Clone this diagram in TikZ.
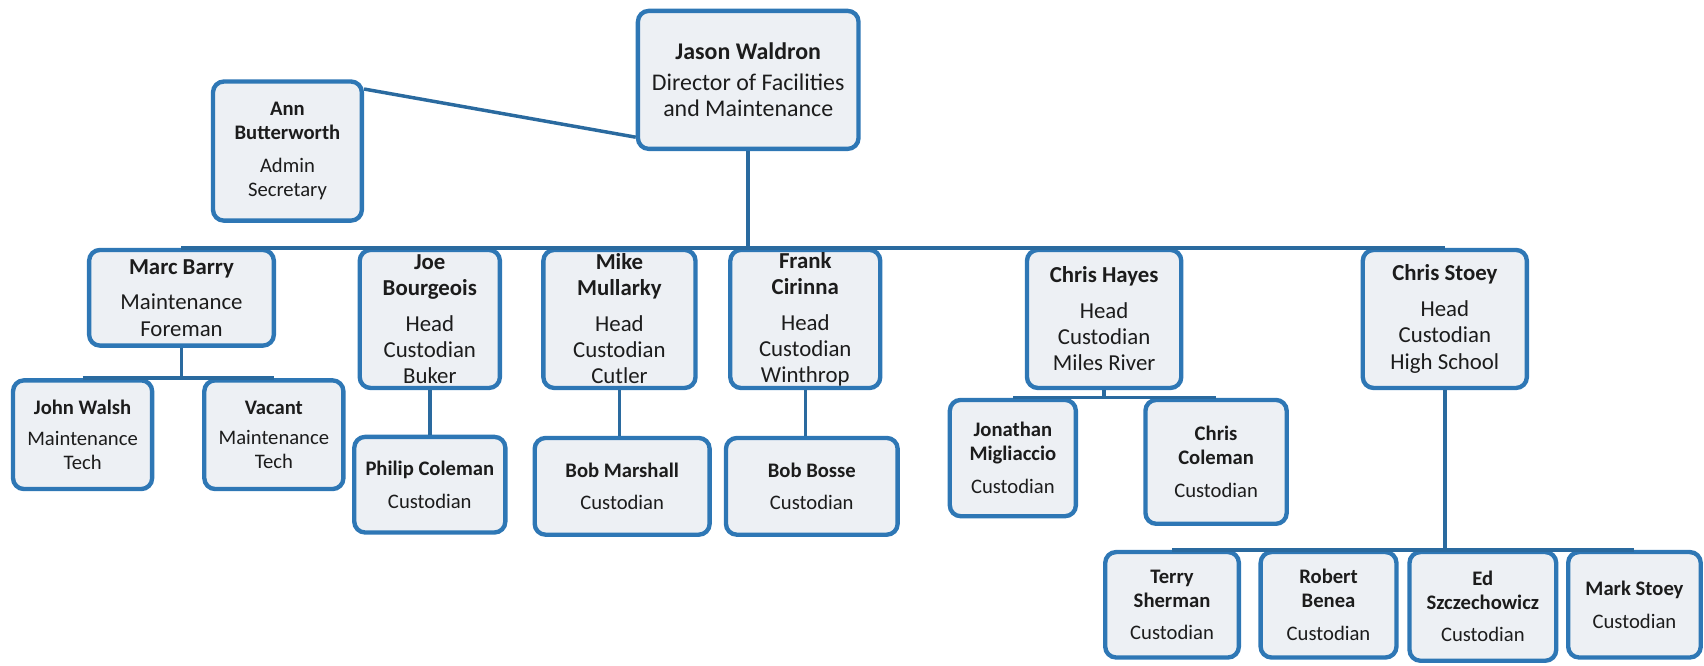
\documentclass[tikz,border=0pt]{standalone}
\usepackage{fontspec}
\setmainfont{Carlito}
\definecolor{boxblue}{HTML}{2E77B5}
\definecolor{lineblue}{HTML}{2A6A9F}
\definecolor{boxfill}{HTML}{EDF0F4}
\definecolor{ink}{HTML}{1C1C1C}
\tikzset{
  box/.style={draw=boxblue, line width=2pt, rounded corners=5pt, fill=boxfill,
    text=ink, align=center, inner sep=1pt},
  topfont/.style={font=\fontsize{11}{12}\selectfont},
  midfont/.style={font=\fontsize{10.5}{12}\selectfont},
  lowfont/.style={font=\fontsize{9.5}{11}\selectfont},
  link/.style={draw=lineblue, line width=1.6pt},
}
\begin{document}
\begin{tikzpicture}[x=0.5pt,y=-0.5pt]
   \useasboundingbox (0,0) rectangle (1568,612);
   % Director and secretary
   \node[box,topfont,minimum width=101.5pt,minimum height=63.5pt] (jason) at (688.5,73.5)
     {\textbf{Jason Waldron}\\[2pt]Director of Facilities\\and Maintenance};
   \node[box,lowfont,minimum width=68.5pt,minimum height=64pt] (ann) at (264.5,139)
     {\textbf{Ann}\\\textbf{Butterworth}\\[4.5pt]Admin\\Secretary};
   % Foreman and head custodians
   \node[box,midfont,minimum width=85pt,minimum height=44pt] (marc) at (167,274)
     {\textbf{Marc Barry}\\[4.5pt]Maintenance\\Foreman};
   \node[box,midfont,minimum width=64.5pt,minimum height=63.5pt] (joe) at (395.5,293.5)
     {\textbf{Joe}\\\textbf{Bourgeois}\\[4.5pt]Head\\Custodian\\Buker};
   \node[box,midfont,minimum width=70pt,minimum height=63.5pt] (mike) at (570,293.5)
     {\textbf{Mike}\\\textbf{Mullarky}\\[4.5pt]Head\\Custodian\\Cutler};
   \node[box,midfont,minimum width=69pt,minimum height=63.5pt] (frank) at (741,293.5)
     {\textbf{Frank}\\\textbf{Cirinna}\\[4.5pt]Head\\Custodian\\Winthrop};
   \node[box,midfont,minimum width=71pt,minimum height=63.5pt] (hayes) at (1016,293.5)
     {\textbf{Chris Hayes}\\[4.5pt]Head\\Custodian\\Miles River};
   \node[box,midfont,minimum width=75.5pt,minimum height=63.5pt] (stoey) at (1329.5,293.5)
     {\textbf{Chris Stoey}\\[4.5pt]Head\\Custodian\\High School};
   % Maintenance techs
   \node[box,lowfont,minimum width=64pt,minimum height=50pt] (walsh) at (76,400)
     {\textbf{John Walsh}\\[3pt]Maintenance\\Tech};
   \node[box,lowfont,minimum width=64pt,minimum height=50pt] (vacant) at (252,400)
     {\textbf{Vacant}\\[3pt]Maintenance\\Tech};
   % Custodians
   \node[box,lowfont,minimum width=69.5pt,minimum height=44pt] (philip) at (395.5,446)
     {\textbf{Philip Coleman}\\[4pt]Custodian};
   \node[box,lowfont,minimum width=80.5pt,minimum height=44.5pt] (marshall) at (572.5,447.5)
     {\textbf{Bob Marshall}\\[4pt]Custodian};
   \node[box,lowfont,minimum width=79pt,minimum height=44.5pt] (bosse) at (747,447.5)
     {\textbf{Bob Bosse}\\[4pt]Custodian};
   \node[box,lowfont,minimum width=58pt,minimum height=53.5pt] (migliaccio) at (932,421.5)
     {\textbf{Jonathan}\\\textbf{Migliaccio}\\[4pt]Custodian};
   \node[box,lowfont,minimum width=65pt,minimum height=57pt] (ccoleman) at (1119,425)
     {\textbf{Chris}\\\textbf{Coleman}\\[4pt]Custodian};
   \node[box,lowfont,minimum width=61.5pt,minimum height=48.5pt] (sherman) at (1078.5,556.5)
     {\textbf{Terry}\\\textbf{Sherman}\\[4pt]Custodian};
   \node[box,lowfont,minimum width=62.5pt,minimum height=48.5pt] (benea) at (1222.5,556.5)
     {\textbf{Robert}\\\textbf{Benea}\\[4pt]Custodian};
   \node[box,lowfont,minimum width=67.5pt,minimum height=50pt] (ed) at (1364.5,558)
     {\textbf{Ed}\\\textbf{Szczechowicz}\\[4pt]Custodian};
   \node[box,lowfont,minimum width=61pt,minimum height=48.5pt] (markst) at (1504,556.5)
     {\textbf{Mark Stoey}\\[4pt]Custodian};
   % Connectors
   \draw[link] (ann.39) -- (jason.207);
   \draw[link] (jason.south) -- (jason.south |- marc.north);
   \draw[link] (marc.north) -- (stoey.north);
   \draw[link] (marc.south) -- (marc.south |- walsh.north);
   \draw[link] (walsh.north) -- (vacant.north);
   \draw[link] (joe.south) -- (philip.north);
   \draw[link] (mike.south) -- (mike.south |- marshall.north);
   \draw[link] (frank.south) -- (frank.south |- bosse.north);
   \draw[link] (hayes.south) -- (hayes.south |- migliaccio.north);
   \draw[link] (migliaccio.north) -- (ccoleman.north);
   \draw[link] (stoey.south) -- (stoey.south |- sherman.north);
   \draw[link] (sherman.north) -- (markst.north);
\end{tikzpicture}
\end{document}
